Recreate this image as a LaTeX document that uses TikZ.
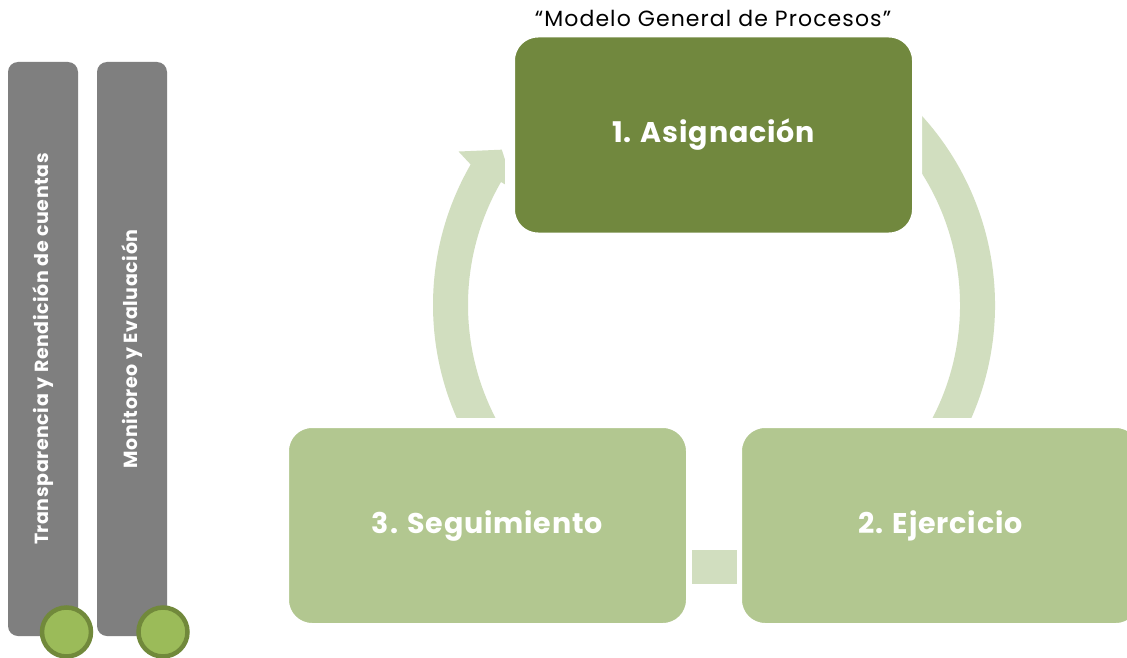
\documentclass[tikz,border=0pt]{standalone}
\usepackage{fontspec}
\setmainfont{Poppins}
\usetikzlibrary{calc}
\definecolor{darkolive}{HTML}{71883E}
\definecolor{lightolive}{HTML}{B2C790}
\definecolor{arcgreen}{HTML}{D1DEBF}
\definecolor{bargray}{HTML}{7F7F7F}
\definecolor{dotfill}{HTML}{9BBB59}
\definecolor{dotline}{HTML}{71893B}
\tikzset{
  stagebox/.style={rectangle, rounded corners=28pt, draw=white, line width=10pt,
    minimum width=407pt, minimum height=205pt, text=white, inner sep=0pt,
    font=\fontsize{28.5}{30}\selectfont\bfseries\addfontfeature{LetterSpace=3}},
  sidebar/.style={rectangle, rounded corners=10pt, fill=bargray, rotate=90,
    minimum width=574pt, minimum height=70pt, text=white, inner sep=0pt,
    font=\fontsize{19}{20}\selectfont\bfseries\addfontfeature{LetterSpace=3}},
  dot/.style={circle, fill=dotfill, draw=dotline, line width=4.5pt,
    minimum size=49pt, inner sep=0pt},
  band/.style={fill=arcgreen, draw=none}
}
\begin{document}
\begin{tikzpicture}[x=1pt,y=1pt]
\useasboundingbox (0,0) rectangle (1127,-658);
\fill[white] (0,0) rectangle (1127,-658);

% side bars
\node[sidebar] (bar1) at (43,-349) {Transparencia y Rendición de cuentas};
\node[sidebar] (bar2) at (132,-349) {Monitoreo y Evaluación};
\node[dot] (dot1) at (66.5,-632) {};
\node[dot] (dot2) at (163,-632) {};

% title
\node[font=\fontsize{22}{24}\selectfont\addfontfeature{LetterSpace=5}, inner sep=0pt] (title) at (713,-18) {“Modelo General de Procesos”};

% cycle arcs
\coordinate (C) at (714,-305);
% right arc (1 -> 2)
\fill[band] ($(C)+(55:281pt)$) arc[start angle=55, end angle=-35, radius=281pt]
  -- ($(C)+(-35:246pt)$) arc[start angle=-35, end angle=55, radius=246pt] -- cycle;
% left arrow (3 -> 1)
\fill[band] ($(C)+(215:281pt)$) arc[start angle=215, end angle=150, radius=281pt]
  -- ($(C)+(149:298pt)$) -- ($(C)+(143.8:263pt)$) -- ($(C)+(150:230pt)$)
  -- ($(C)+(150:246pt)$) arc[start angle=150, end angle=215, radius=246pt] -- cycle;

% boxes
\node[stagebox, fill=darkolive] (asig) at (713.5,-135) {1. Asignación};
\node[stagebox, fill=lightolive] (seg) at (487.5,-525.5) {3. Seguimiento};
\node[stagebox, fill=lightolive] (ejer) at (940.5,-525.5) {2. Ejercicio};

% connector between 2 and 3
\node[fill=arcgreen, minimum width=45pt, minimum height=34pt, inner sep=0pt] (link) at (714.5,-567) {};
\end{tikzpicture}
\end{document}
